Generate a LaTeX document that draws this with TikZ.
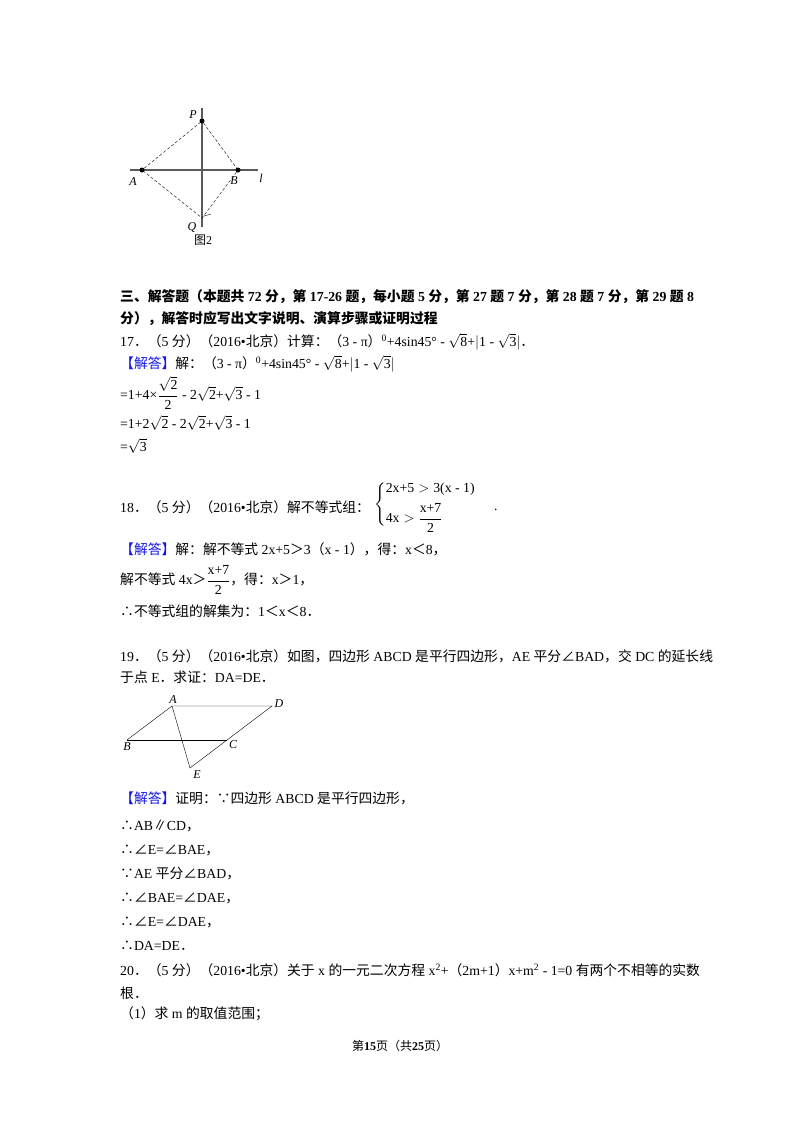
\documentclass[tikz,border=0pt]{standalone}
\usepackage{amsmath}
\usepackage{fontspec}
\setmainfont{Liberation Serif}
\newfontfamily\cjk{Noto Sans CJK SC}
\XeTeXinterchartokenstate=1
\newXeTeXintercharclass\CJKcls
\count255="2E80
\loop \XeTeXcharclass\count255=\CJKcls \ifnum\count255<"9FFF \advance\count255 by 1 \repeat
\count255="FF00
\loop \XeTeXcharclass\count255=\CJKcls \ifnum\count255<"FFEF \advance\count255 by 1 \repeat
\XeTeXcharclass"2234=\CJKcls
\XeTeXcharclass"2235=\CJKcls
\XeTeXcharclass"2220=\CJKcls
\XeTeXcharclass"2225=\CJKcls
\XeTeXinterchartoks 0 \CJKcls = {\begingroup\cjk}
\XeTeXinterchartoks 4095 \CJKcls = {\begingroup\cjk}
\XeTeXinterchartoks \CJKcls 0 = {\endgroup}
\XeTeXinterchartoks \CJKcls 4095 = {\endgroup}
\definecolor{ansblue}{RGB}{20,20,230}
\definecolor{figgray}{RGB}{90,90,90}
\begin{document}
\begin{tikzpicture}[x=1pt,y=-1pt,
  txt/.style={anchor=west,inner sep=0pt,font=\fontsize{13.8}{16}\selectfont},
  lab/.style={inner sep=0pt,font=\fontsize{12}{14}\selectfont\itshape},
  dot/.style={circle,fill=black,inner sep=0pt,minimum size=5pt},
  dsh/.style={dashed,dash pattern=on 3pt off 2pt,thin},
  fig/.style={thin,black}]
\useasboundingbox[fill=white] (0,0) rectangle (800,1132);
% figure 2
\coordinate (lL) at (130,170); \coordinate (lR) at (258,170);
\coordinate (vT) at (202,108); \coordinate (vB) at (202,227);
\draw[figgray,line width=1.2pt] (lL) -- (lR);
\draw[figgray,line width=1.2pt] (vT) -- (vB);
\node[dot] (P) at (202,121) {};
\node[dot] (A) at (142,170) {};
\node[dot] (B) at (238,170) {};
\coordinate (Q) at (202,218);
\draw[dsh] (A) -- (P) -- (B) -- (Q) -- (A);
\draw[thin] (204,216) -- (211,214);
\node[lab] at (193,115) {P};
\node[lab] at (133,182) {A};
\node[lab] at (234,181) {B};
\node[lab] at (261,178) {l};
\node[lab] at (192,227) {Q};
\node[inner sep=0pt,font=\fontsize{12}{14}\selectfont] at (203,240) {图2};
% section 3
\node[txt,font=\fontsize{13.8}{16}\selectfont\bfseries] (h1) at (120,297) {三、解答题（本题共 72 分，第 17-26 题，每小题 5 分，第 27 题 7 分，第 28 题 7 分，第 29 题 8};
\node[txt,font=\fontsize{13.8}{16}\selectfont\bfseries] (h2) at (120,319) {分），解答时应写出文字说明、演算步骤或证明过程};
\node[txt] (q17) at (120,342) {17．（5 分）（2016•北京）计算：（3 - π）$^{\text{0}}$+4sin45° - $\sqrt{\text{8}}$+$|$1 - $\sqrt{\text{3}}|$．};
\node[txt] (a17) at (120,364) {{\color{ansblue}【解答】}解：（3 - π）$^{\text{0}}$+4sin45° - $\sqrt{\text{8}}$+$|$1 - $\sqrt{\text{3}}|$};
\node[txt] (s1) at (120,393) {=1+4×$\dfrac{\sqrt{\text{2}}}{\text{2}}$ - 2$\sqrt{\text{2}}$+$\sqrt{\text{3}}$ - 1};
\node[txt] (s2) at (120,423) {=1+2$\sqrt{\text{2}}$ - 2$\sqrt{\text{2}}$+$\sqrt{\text{3}}$ - 1};
\node[txt] (s3) at (120,446) {=$\sqrt{\text{3}}$};
% 18
\node[txt] (q18) at (120,507) {18．（5 分）（2016•北京）解不等式组：};
\node[txt] (sys) at (374,505) {$\left\{\begin{array}{@{}l@{}}\text{2x+5}>\text{3(x - 1)}\\[6pt]\text{4x}>\dfrac{\text{x+7}}{\text{2}}\\[-4pt]\end{array}\right.$};
\node[txt] (dot18) at (494,510) {.};
\node[txt] (a18) at (120,549) {{\color{ansblue}【解答】}解：解不等式 2x+5＞3（x - 1），得：x＜8，};
\node[txt] (a18b) at (120,580) {解不等式 4x＞$\dfrac{\text{x+7}}{\text{2}}$，得：x＞1，};
\node[txt] (a18c) at (120,611) {∴不等式组的解集为：1＜x＜8．};
% 19
\node[txt] (q19) at (120,656) {19．（5 分）（2016•北京）如图，四边形 ABCD 是平行四边形，AE 平分∠BAD，交 DC 的延长线};
\node[txt] (q19b) at (120,677) {于点 E．求证：DA=DE．};
\coordinate (pA) at (172,706); \coordinate (pD) at (272,706);
\coordinate (pB) at (127,740); \coordinate (pC) at (227,740);
\coordinate (pE) at (190,768);
\draw[fig] (pB) -- (pA) -- (pD) -- (pE) -- (pA);
\draw[fig] (pB) -- (pC);
\node[lab] at (173,700) {A};
\node[lab] at (279,704) {D};
\node[lab] at (127,747) {B};
\node[lab] at (233,745) {C};
\node[lab] at (197,775) {E};
\node[txt] (a19) at (120,798) {{\color{ansblue}【解答】}证明：∵四边形 ABCD 是平行四边形，};
\node[txt] (a19a) at (120,826) {∴AB∥CD，};
\node[txt] (a19b) at (120,850) {∴∠E=∠BAE，};
\node[txt] (a19c) at (120,874) {∵AE 平分∠BAD，};
\node[txt] (a19d) at (120,898) {∴∠BAE=∠DAE，};
\node[txt] (a19e) at (120,922) {∴∠E=∠DAE，};
\node[txt] (a19f) at (120,946) {∴DA=DE．};
% 20
\node[txt] (q20) at (120,970) {20．（5 分）（2016•北京）关于 x 的一元二次方程 x$^{\text{2}}$+（2m+1）x+m$^{\text{2}}$ - 1=0 有两个不相等的实数};
\node[txt] (q20b) at (120,993) {根．};
\node[txt] (q20c) at (120,1014) {（1）求 m 的取值范围；};
\node[inner sep=0pt,font=\fontsize{12}{14}\selectfont] (foot) at (400,1046) {第\textbf{15}页（共\textbf{25}页）};
\end{tikzpicture}
\end{document}
